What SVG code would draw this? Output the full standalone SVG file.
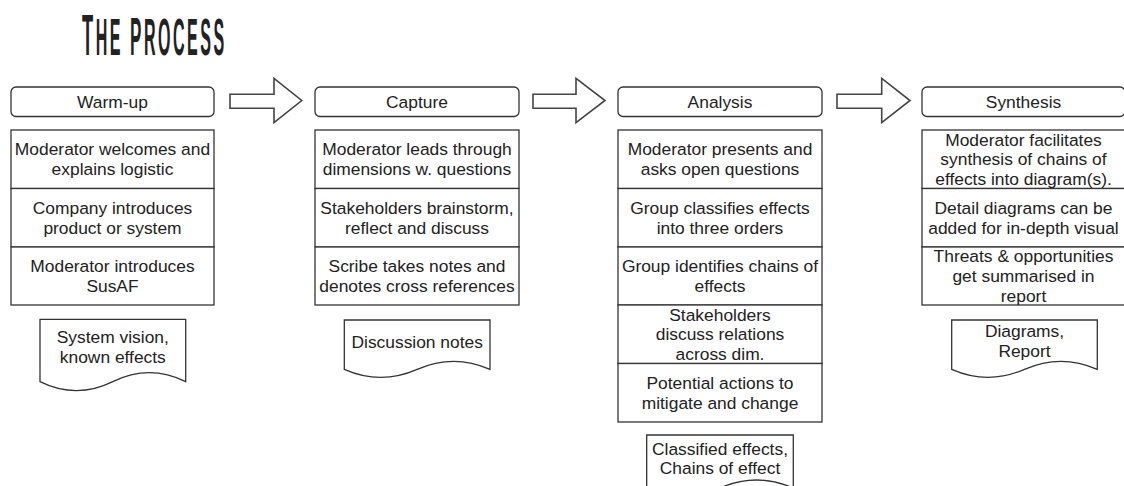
<svg xmlns="http://www.w3.org/2000/svg" width="1124" height="486" viewBox="0 0 1124 486">
<style>
.box{fill:#fff;stroke:#333;stroke-width:1.3}
.hdr{fill:#fff;stroke:#333;stroke-width:1.3}
.doc{fill:#fff;stroke:#333;stroke-width:1.3}
.arr{fill:#fff;stroke:#444;stroke-width:1.6;stroke-linejoin:miter}
.t{font-family:'Liberation Sans',Arial,Helvetica,sans-serif;font-size:17.4px;fill:#222;text-anchor:middle}
.title{font-family:'Liberation Sans',Arial,sans-serif;font-weight:bold;fill:#222;letter-spacing:8px}
</style>
<rect width="1124" height="486" fill="#fff"/>
<g id="title">
<text class="title" transform="translate(82,55) scale(0.315,1)" x="0" y="0"><tspan font-size="58">T</tspan><tspan font-size="51">HE </tspan><tspan font-size="54">P</tspan><tspan font-size="51">ROCESS</tspan></text>
</g>
<g id="connectors">
<path class="arr" d="M230,94.3 H274 V78.3 L301.7,100.5 L274,122.7 V108.3 H230 Z"/>
<path class="arr" d="M533,94.3 H576 V78.3 L605,100.5 L576,122.7 V108.3 H533 Z"/>
<path class="arr" d="M837,94.3 H881.7 V78.3 L910,100.5 L881.7,122.7 V108.3 H837 Z"/>
</g>
<!-- Warm-up -->
<g id="warmup-header"><rect class="hdr" x="11" y="87" width="203" height="29.5" rx="5"/><text class="t" x="112.5" y="107.8">Warm-up</text></g>
<g id="warmup-1"><rect class="box" x="11" y="130" width="203" height="58.5"/><text class="t" x="112.5" y="155.4">Moderator welcomes and</text><text class="t" x="112.5" y="175.1">explains logistic</text></g>
<g id="warmup-2"><rect class="box" x="11" y="188.5" width="203" height="58.5"/><text class="t" x="112.5" y="213.9">Company introduces</text><text class="t" x="112.5" y="233.6">product or system</text></g>
<g id="warmup-3"><rect class="box" x="11" y="247" width="203" height="58"/><text class="t" x="112.5" y="272.2">Moderator introduces</text><text class="t" x="112.5" y="291.9">SusAF</text></g>
<g id="warmup-doc"><path class="doc" d="M40,319.3 H185.7 V381.7 Q149.3,363.7 112.8,381.7 Q76.4,399.7 40,381.7 Z"/><text class="t" x="112.8" y="342.7">System vision,</text><text class="t" x="112.8" y="362.7">known effects</text></g>
<!-- Capture -->
<g id="capture-header"><rect class="hdr" x="315" y="87" width="204" height="29.5" rx="5"/><text class="t" x="417" y="107.8">Capture</text></g>
<g id="capture-1"><rect class="box" x="315" y="130" width="204" height="58.5"/><text class="t" x="417" y="155.4">Moderator leads through</text><text class="t" x="417" y="175.1">dimensions w. questions</text></g>
<g id="capture-2"><rect class="box" x="315" y="188.5" width="204" height="58.5"/><text class="t" x="417" y="213.9">Stakeholders brainstorm,</text><text class="t" x="417" y="233.6">reflect and discuss</text></g>
<g id="capture-3"><rect class="box" x="315" y="247" width="204" height="58"/><text class="t" x="417" y="272.2">Scribe takes notes and</text><text class="t" x="417" y="291.9">denotes cross references</text></g>
<g id="capture-doc"><path class="doc" d="M344.3,320 H490 V369.3 Q453.6,353.3 417.2,369.3 Q380.7,385.3 344.3,369.3 Z"/><text class="t" x="417.2" y="347.7">Discussion notes</text></g>
<!-- Analysis -->
<g id="analysis-header"><rect class="hdr" x="618" y="87" width="204" height="29.5" rx="5"/><text class="t" x="720" y="107.8">Analysis</text></g>
<g id="analysis-1"><rect class="box" x="618" y="130" width="204" height="58.5"/><text class="t" x="720" y="155.4">Moderator presents and</text><text class="t" x="720" y="175.1">asks open questions</text></g>
<g id="analysis-2"><rect class="box" x="618" y="188.5" width="204" height="58.5"/><text class="t" x="720" y="213.9">Group classifies effects</text><text class="t" x="720" y="233.6">into three orders</text></g>
<g id="analysis-3"><rect class="box" x="618" y="247" width="204" height="58"/><text class="t" x="720" y="272.2">Group identifies chains of</text><text class="t" x="720" y="291.9">effects</text></g>
<g id="analysis-4"><rect class="box" x="618" y="305" width="204" height="58.5"/><text class="t" x="720" y="320.5">Stakeholders</text><text class="t" x="720" y="340.2">discuss relations</text><text class="t" x="720" y="359.9">across dim.</text></g>
<g id="analysis-5"><rect class="box" x="618" y="363.5" width="204" height="58.5"/><text class="t" x="720" y="388.9">Potential actions to</text><text class="t" x="720" y="408.6">mitigate and change</text></g>
<g id="analysis-doc"><path class="doc" d="M646.7,435 H793.3 V488 Q756.6,472 720,488 Q683.3,504 646.7,488 Z"/><text class="t" x="720" y="455">Classified effects,</text><text class="t" x="720" y="474.3">Chains of effect</text></g>
<!-- Synthesis -->
<g id="synthesis-header"><rect class="hdr" x="922" y="87" width="203" height="29.5" rx="5"/><text class="t" x="1023.5" y="107.8">Synthesis</text></g>
<g id="synthesis-1"><rect class="box" x="922" y="130" width="203" height="58.5"/><text class="t" x="1023.5" y="145.6">Moderator facilitates</text><text class="t" x="1023.5" y="165.3">synthesis of chains of</text><text class="t" x="1023.5" y="185">effects into diagram(s).</text></g>
<g id="synthesis-2"><rect class="box" x="922" y="188.5" width="203" height="58.5"/><text class="t" x="1023.5" y="213.9">Detail diagrams can be</text><text class="t" x="1023.5" y="233.6">added for in-depth visual</text></g>
<g id="synthesis-3"><rect class="box" x="922" y="247" width="203" height="58"/><text class="t" x="1023.5" y="262.3">Threats &amp; opportunities</text><text class="t" x="1023.5" y="282">get summarised in</text><text class="t" x="1023.5" y="301.7">report</text></g>
<g id="synthesis-doc"><path class="doc" d="M951.7,320 H1097.3 V369.3 Q1060.9,353.3 1024.5,369.3 Q988.1,385.3 951.7,369.3 Z"/><text class="t" x="1024.5" y="337.3">Diagrams,</text><text class="t" x="1024.5" y="357.3">Report</text></g>
</svg>
